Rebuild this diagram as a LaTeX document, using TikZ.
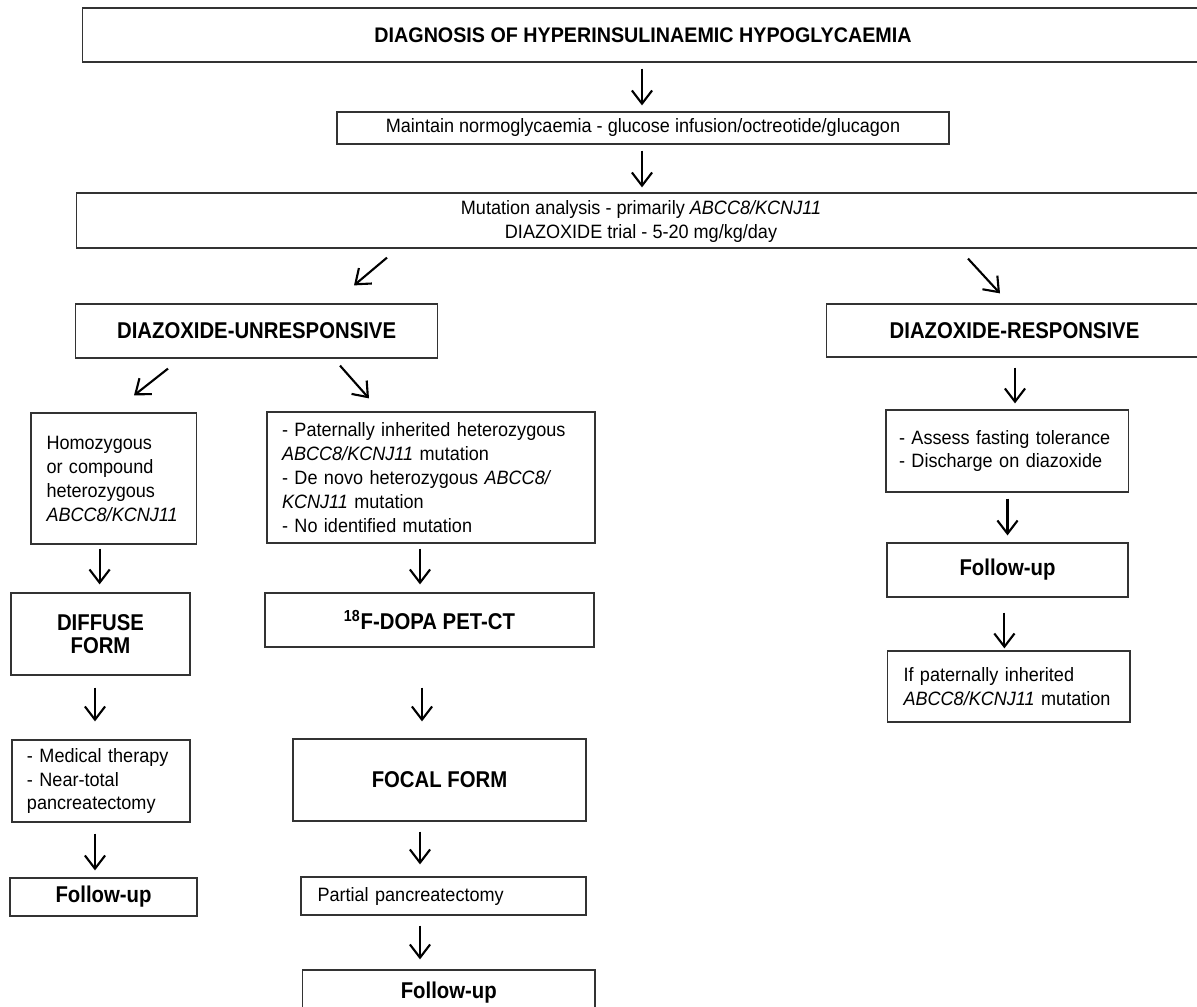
\documentclass[tikz,border=0pt]{standalone}
\usepackage{fontspec}
\setmainfont{Liberation Sans}
\newfontfamily\plainsans[FakeStretch=0.935]{Liberation Sans}
\newfontfamily\condsans[FakeStretch=0.89]{Liberation Sans}
\usepackage{tikz}
\usetikzlibrary{calc,arrows.meta}
\newlength{\figpx}
\setlength{\figpx}{0.02cm}

\tikzset{
  box/.style={draw=black!80, line width=0.7pt, inner sep=0pt},
  txt/.style={font=\plainsans\fontsize{11}{13.65}\selectfont},
  headtxt/.style={font=\condsans\fontsize{13}{13.1}\selectfont\bfseries},
  arr/.style={-{Straight Barb[length=7.5pt,width=11.5pt]}, line width=1.2pt}
}

\begin{document}
\begin{tikzpicture}[x=0.02cm, y=-0.02cm]
    \useasboundingbox (0,0) rectangle (1197,1007);
    % top of the chart
    \node[box, minimum width=1127.3\figpx, minimum height=54\figpx] (diag) at (646.35,35) {};
    \node[font=\plainsans\fontsize{12}{13}\selectfont\bfseries] (diagtext) at (643,35) {DIAGNOSIS OF HYPERINSULINAEMIC HYPOGLYCAEMIA};
    \node[box, txt, minimum width=612\figpx, minimum height=32\figpx] (maint) at (643,128) {Maintain normoglycaemia - glucose infusion/octreotide/glucagon};
    \node[box, minimum width=1133.5\figpx, minimum height=55\figpx] (trial) at (643.25,220.5) {};
    \node[txt, align=center, font=\plainsans\fontsize{11}{13.1}\selectfont] (trialtext) at (641,221.5) {Mutation analysis - primarily \textit{ABCC8/KCNJ11}\\DIAZOXIDE trial - 5-20 mg/kg/day};
    % two branches
    \node[box, headtxt, minimum width=362.2\figpx, minimum height=54\figpx] (unresp) at (256.6,331) {DIAZOXIDE-UNRESPONSIVE};
    \node[box, minimum width=383.4\figpx, minimum height=53\figpx] (resp) at (1018.3,330.5) {};
    \node[headtxt] (resptext) at (1014.5,331) {DIAZOXIDE-RESPONSIVE};
    % unresponsive side
    \node[box, txt, align=left, text width=134.5\figpx, inner xsep=15.5\figpx, minimum height=131\figpx] (homo) at (113.75,478.5) {Homozygous\\or compound\\heterozygous\\\textit{ABCC8/KCNJ11}};
    \node[box, txt, align=left, text width=298\figpx, inner xsep=15\figpx, minimum height=131\figpx] (pat) at (431,477.5) {- Paternally inherited heterozygous\\\textit{ABCC8/KCNJ11} mutation\\- De novo heterozygous \textit{ABCC8/}\\\textit{KCNJ11} mutation\\- No identified mutation};
    \node[box, headtxt, align=center, minimum width=179\figpx, minimum height=82\figpx] (diffuse) at (100.5,634) {DIFFUSE\\FORM};
    \node[box, headtxt, minimum width=329\figpx, minimum height=54\figpx] (dopa) at (429.5,620) {\textsuperscript{18}F-DOPA PET-CT};
    \node[box, txt, align=left, text width=148\figpx, inner xsep=15\figpx, minimum height=82\figpx] (medical) at (101,781) {- Medical therapy\\- Near-total\\pancreatectomy};
    \node[box, headtxt, minimum width=293\figpx, minimum height=82\figpx] (focal) at (439.5,780) {FOCAL FORM};
    \node[box, headtxt, minimum width=187\figpx, minimum height=38\figpx] (followa) at (103.5,897) {Follow-up};
    \node[box, txt, align=left, text width=252\figpx, inner xsep=16.5\figpx, minimum height=38\figpx] (partial) at (443.5,896) {Partial pancreatectomy};
    \node[box, headtxt, minimum width=292.5\figpx, minimum height=46\figpx] (followb) at (448.75,993) {Follow-up};
    % responsive side
    \node[box, txt, align=left, text width=216.6\figpx, inner xsep=13\figpx, minimum height=82\figpx] (assess) at (1007.3,451) {- Assess fasting tolerance\\- Discharge on diazoxide};
    \node[box, headtxt, minimum width=241\figpx, minimum height=54\figpx] (followc) at (1007.5,570) {Follow-up};
    \node[box, txt, align=left, text width=210.5\figpx, inner xsep=16\figpx, minimum height=71\figpx] (ifpat) at (1008.75,686.5) {If paternally inherited\\\textit{ABCC8/KCNJ11} mutation};

    % straight arrows: from/to/x/gap at start/gap at end
    \foreach \from/\to/\x/\s/\e in {diag/maint/642/6/6, maint/trial/642/6/5,
        homo/diffuse/99.6/4/8, pat/dopa/420/5/8, diffuse/medical/95/12/18,
        dopa/focal/422/40/17, medical/followa/95/11/7, focal/partial/420/10/12,
        partial/followb/420/10/10, resp/assess/1015/10/6, assess/followc/1007.5/6/7,
        followc/ifpat/1004.4/15/2}
      \draw[arr] ($(\from.south -| \x,0)+(0,\s)$) -- ($(\to.north -| \x,0)+(0,-\e)$);
    % slanted arrows
    \draw[arr] ($(trial.south -| 387,0)+(0,9)$) -- ($(unresp.north -| 354,0)+(0,-18)$);
    \draw[arr] ($(trial.south -| 968,0)+(0,10)$) -- ($(resp.north -| 1000,0)+(0,-10)$);
    \draw[arr] ($(unresp.south -| 168,0)+(0,10)$) -- ($(homo.north -| 134,0)+(0,-17)$);
    \draw[arr] ($(unresp.south -| 340,0)+(0,7)$) -- ($(pat.north -| 369,0)+(0,-13)$);
\end{tikzpicture}
\end{document}
